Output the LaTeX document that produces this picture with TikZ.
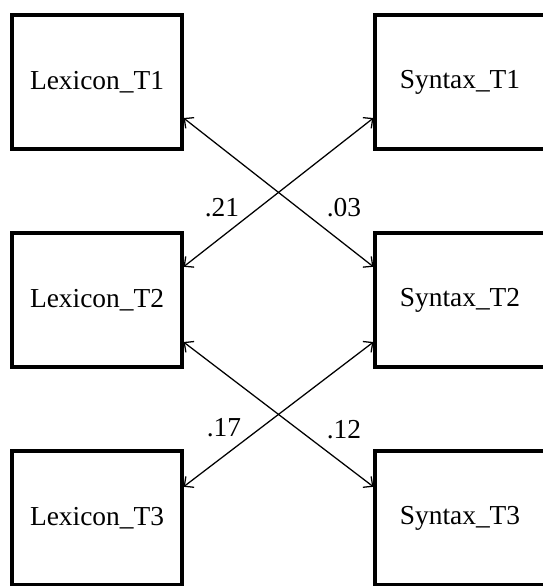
\documentclass[tikz,border=0pt]{standalone}
\usepackage{fontspec}
\setmainfont{Liberation Serif}
\usetikzlibrary{arrows.meta}

\begin{document}
\begin{tikzpicture}[
			     >={Straight Barb[length=1.8mm,width=3.4mm]},
			     var/.style={draw, line width=2.2pt, minimum width=4.25cm, minimum height=3.35cm, inner sep=0pt, font=\fontsize{19.5}{23}\selectfont},
			     corr/.style={<->, line width=0.9pt},
			     coef/.style={font=\fontsize{19.5}{23}\selectfont}
			     ]
\useasboundingbox (0,0) rectangle (13.575,-14.65);
% lexicon on the left, syntax on the right
\node[var] (lex1) at (2.425,-2.05) {Lexicon\_T1};
\node[var] (lex2) at (2.425,-7.5) {Lexicon\_T2};
\node[var] (lex3) at (2.425,-12.95) {Lexicon\_T3};
\node[var] (syn1) at (11.5,-2.05) {Syntax\_T1};
\node[var] (syn2) at (11.5,-7.5) {Syntax\_T2};
\node[var] (syn3) at (11.5,-12.95) {Syntax\_T3};
% cross-lagged paths
\draw[corr] ([yshift=-9mm]lex1.east) -- ([yshift=8.3mm]syn2.west);
\draw[corr] ([yshift=-9mm]syn1.west) -- ([yshift=8.3mm]lex2.east);
\draw[corr] ([yshift=-10.5mm]lex2.east) -- ([yshift=7.8mm]syn3.west);
\draw[corr] ([yshift=-10.5mm]syn2.west) -- ([yshift=7.8mm]lex3.east);
% coefficients
\node[coef] (c21) at (5.55,-5.2) {.21};
\node[coef] (c03) at (8.6,-5.2) {.03};
\node[coef] (c17) at (5.6,-10.68) {.17};
\node[coef] (c12) at (8.6,-10.75) {.12};
\end{tikzpicture}
\end{document}
